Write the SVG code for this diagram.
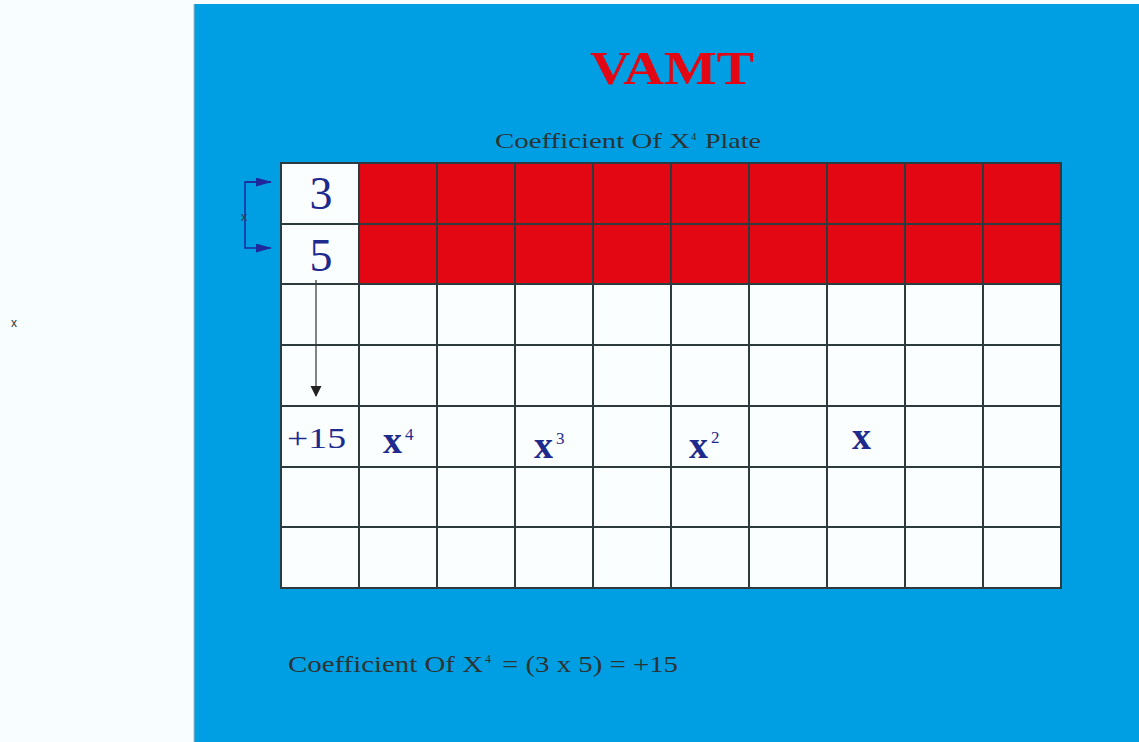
<svg xmlns="http://www.w3.org/2000/svg" width="1139" height="742" viewBox="0 0 1139 742">
<style>
.cell{fill:#FBFEFF;stroke:#2E3B3E;stroke-width:2}
.red{fill:#E30613;stroke:#2E3B3E;stroke-width:2}
.num{font-family:"Liberation Serif",serif;fill:#1E2A8C}
.lbl{font-family:"Liberation Serif",serif;fill:#2B3333}
.vx{font-size:38px;font-weight:bold}
.sup{font-size:17px}
</style>
<defs>
<marker id="ba" markerWidth="16" markerHeight="9" refX="15" refY="4.5" orient="auto" markerUnits="userSpaceOnUse"><path d="M0,0 L16,4.5 L0,9 Z" fill="#1E2A9C"/></marker>
<marker id="da" markerWidth="11" markerHeight="12" refX="10" refY="5.5" orient="auto" markerUnits="userSpaceOnUse"><path d="M0,0 L11,5.5 L0,11 Z" fill="#222"/></marker>
</defs>
<rect x="0" y="0" width="1139" height="742" fill="#F8FDFF"/>
<rect x="194" y="4" width="945" height="738" fill="#009FE3"/>
<line x1="194" y1="4" x2="194" y2="742" stroke="#B0B8BC" stroke-width="1"/>
<text x="14" y="327" font-family="Liberation Sans,sans-serif" font-size="12" fill="#333" text-anchor="middle">x</text>
<text x="590" y="84" font-family="Liberation Serif,serif" font-size="46" font-weight="bold" fill="#E30613" textLength="164" lengthAdjust="spacingAndGlyphs">VAMT</text>
<g id="plate-title" class="lbl">
<text x="495" y="148" font-size="22" textLength="195" lengthAdjust="spacingAndGlyphs">Coefficient Of X</text>
<text x="691" y="140" font-size="11">4</text>
<text x="705" y="148" font-size="22" textLength="56" lengthAdjust="spacingAndGlyphs">Plate</text>
</g>
<g id="grid">
<g id="row0">
<rect class="cell" x="281" y="163" width="78" height="61"/>
<rect class="red" x="359" y="163" width="78" height="61"/><rect class="red" x="437" y="163" width="78" height="61"/><rect class="red" x="515" y="163" width="78" height="61"/><rect class="red" x="593" y="163" width="78" height="61"/><rect class="red" x="671" y="163" width="78" height="61"/><rect class="red" x="749" y="163" width="78" height="61"/><rect class="red" x="827" y="163" width="78" height="61"/><rect class="red" x="905" y="163" width="78" height="61"/><rect class="red" x="983" y="163" width="78" height="61"/>
</g>
<g id="row1">
<rect class="cell" x="281" y="224" width="78" height="60"/>
<rect class="red" x="359" y="224" width="78" height="60"/><rect class="red" x="437" y="224" width="78" height="60"/><rect class="red" x="515" y="224" width="78" height="60"/><rect class="red" x="593" y="224" width="78" height="60"/><rect class="red" x="671" y="224" width="78" height="60"/><rect class="red" x="749" y="224" width="78" height="60"/><rect class="red" x="827" y="224" width="78" height="60"/><rect class="red" x="905" y="224" width="78" height="60"/><rect class="red" x="983" y="224" width="78" height="60"/>
</g>
<g id="white-rows">
<rect class="cell" x="281" y="284" width="780" height="304"/>
<g stroke="#2E3B3E" stroke-width="2">
<line x1="281" y1="345" x2="1061" y2="345"/><line x1="281" y1="406" x2="1061" y2="406"/><line x1="281" y1="467" x2="1061" y2="467"/><line x1="281" y1="527" x2="1061" y2="527"/>
<line x1="359" y1="284" x2="359" y2="588"/><line x1="437" y1="284" x2="437" y2="588"/><line x1="515" y1="284" x2="515" y2="588"/><line x1="593" y1="284" x2="593" y2="588"/><line x1="671" y1="284" x2="671" y2="588"/><line x1="749" y1="284" x2="749" y2="588"/><line x1="827" y1="284" x2="827" y2="588"/><line x1="905" y1="284" x2="905" y2="588"/><line x1="983" y1="284" x2="983" y2="588"/>
</g>
</g>
</g>
<g id="n3"><text x="321" y="209" class="num" font-size="46" text-anchor="middle">3</text></g>
<g id="n5"><text x="321" y="271" class="num" font-size="46" text-anchor="middle">5</text></g>
<g id="labels" class="num">
<text x="287" y="448" font-size="30" textLength="59" lengthAdjust="spacingAndGlyphs">+15</text>
<text x="383" y="453" class="vx">x</text>
<text x="405" y="440" class="sup">4</text>
<text x="534" y="458" class="vx">x</text>
<text x="556" y="444" class="sup">3</text>
<text x="689" y="458" class="vx">x</text>
<text x="711" y="443" class="sup">2</text>
<text x="852" y="449" class="vx">x</text>
</g>
<g id="connectors">
<polyline points="271,182 245,182 245,248 271,248" fill="none" stroke="#1E2A9C" stroke-width="1.5" marker-end="url(#ba)"/>
<line x1="245" y1="182" x2="271" y2="182" stroke="#1E2A9C" stroke-width="1.5" marker-end="url(#ba)"/>
<line x1="316" y1="280" x2="316" y2="396" stroke="#333" stroke-width="1.2" marker-end="url(#da)"/>
</g>
<text x="244" y="221" font-family="Liberation Sans,sans-serif" font-size="13" fill="#2A4050" text-anchor="middle">x</text>
<g id="formula" class="lbl">
<text x="288" y="672" font-size="24" textLength="195" lengthAdjust="spacingAndGlyphs">Coefficient Of X</text>
<text x="485" y="663" font-size="12">4</text>
<text x="502" y="672" font-size="24" textLength="176" lengthAdjust="spacingAndGlyphs">= (3 x 5) = +15</text>
</g>
</svg>
